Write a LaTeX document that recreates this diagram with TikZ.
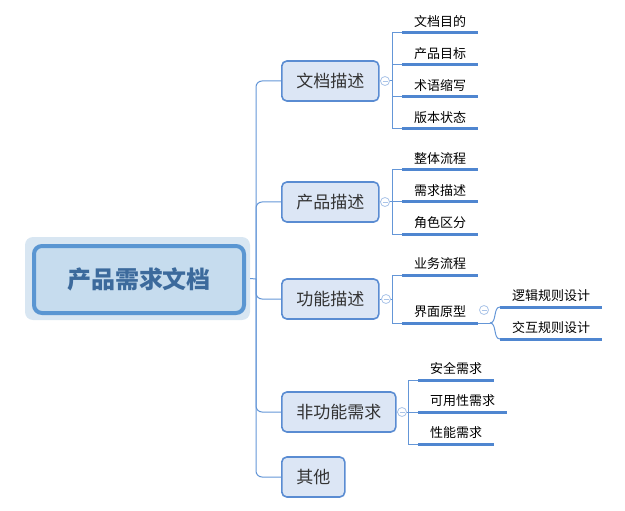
\documentclass[tikz,border=0pt]{standalone}
\usepackage{fontspec}
\usepackage{tikz}
\setmainfont{Noto Sans CJK SC}
\definecolor{linkblue}{RGB}{100,150,215}
\definecolor{barblue}{RGB}{79,134,208}
\definecolor{topicfill}{RGB}{220,230,245}
\definecolor{topicline}{RGB}{90,140,210}
\definecolor{rootfill}{RGB}{198,220,238}
\definecolor{rootline}{RGB}{90,150,210}
\definecolor{glowfill}{RGB}{216,230,242}
\definecolor{roottext}{RGB}{60,106,156}
\definecolor{foldline}{RGB}{170,196,232}

\begin{document}
\begin{tikzpicture}[x=1pt, y=-1pt,
  glow/.style={fill=glowfill, rounded corners=8pt, minimum width=225pt, minimum height=83pt},
  root/.style={draw=rootline, line width=4pt, fill=rootfill, rounded corners=8pt,
    minimum width=210pt, minimum height=67pt,
    font=\bfseries\fontsize{24}{28}\selectfont, text=roottext},
  topic/.style={draw=topicline, line width=1.6pt, fill=topicfill, rounded corners=5pt,
    inner xsep=14.5pt, minimum height=40pt, font=\fontsize{17}{20}\selectfont,
    text=black!80, anchor=west},
  leaf/.style={inner xsep=12pt, inner ysep=5pt, font=\fontsize{13}{15}\selectfont,
    anchor=south west,
    append after command={(\tikzlastnode.south west) edge[bar] (\tikzlastnode.south east)}},
  bar/.style={draw=barblue, line width=3pt},
  link/.style={draw=linkblue, line width=1pt},
  fold/.style={circle, draw=foldline, fill=white, line width=0.8pt, minimum size=9pt, inner sep=0pt,
    path picture={\draw[foldline, line width=0.8pt] ([xshift=2pt]path picture bounding box.west)
      -- ([xshift=-2pt]path picture bounding box.east);}}
]
  \useasboundingbox (0,0) rectangle (625,511);

  % central topic
  \node[glow] (rootglow) at (137.5,278.5) {};
  \node[root] (root) at (139,279.5) {产品需求文档};

  % main topics
  \node[topic] (wdms) at (281,81) {文档描述};
  \node[topic] (cpms) at (281,202) {产品描述};
  \node[topic] (gnms) at (281,299) {功能描述};
  \node[topic] (fgn) at (281,412) {非功能需求};
  \node[topic] (qt) at (281,477) {其他};

  % subtopics
  \node[leaf] (wdmd) at (402,33) {文档目的};
  \node[leaf] (cpmb) at (402,65) {产品目标};
  \node[leaf] (sysx) at (402,97) {术语缩写};
  \node[leaf] (bbzt) at (402,129) {版本状态};
  \node[leaf] (ztlc) at (402,170) {整体流程};
  \node[leaf] (xqms) at (402,202) {需求描述};
  \node[leaf] (jsqf) at (402,234) {角色区分};
  \node[leaf] (ywlc) at (402,275) {业务流程};
  \node[leaf] (jmyx) at (402,323) {界面原型};
  \node[leaf] (ljgz) at (500,307) {逻辑规则设计};
  \node[leaf] (jhgz) at (500,339) {交互规则设计};
  \node[leaf] (aqxq) at (418,380) {安全需求};
  \node[leaf] (kyx) at (418,412) {可用性需求};
  \node[leaf] (xnxq) at (418,444) {性能需求};

  % connectors
  \coordinate (hub) at (256,279);
  \draw[link] (rootglow.east) -- (hub);
  \foreach \t in {wdms,cpms,gnms,fgn,qt}
    \draw[link, rounded corners=6pt] (hub) |- (\t.west);

  \coordinate (wdbar) at (392,81);
  \draw[link] (wdms.east) -- (wdbar);
  \foreach \l in {wdmd,cpmb,sysx,bbzt}
    \draw[link] (wdbar) |- (\l.south west);

  \coordinate (cpbar) at (392,202);
  \draw[link] (cpms.east) -- (cpbar);
  \foreach \l in {ztlc,xqms,jsqf}
    \draw[link] (cpbar) |- (\l.south west);

  \coordinate (gnbar) at (392,299);
  \draw[link] (gnms.east) -- (gnbar);
  \foreach \l in {ywlc,jmyx}
    \draw[link] (gnbar) |- (\l.south west);

  \coordinate (fgnbar) at (408,412);
  \draw[link] (fgn.east) -- (fgnbar);
  \foreach \l in {aqxq,kyx,xnxq}
    \draw[link] (fgnbar) |- (\l.south west);

  \coordinate (jmfork) at (490,323);
  \draw[link] (jmyx.south east) -- (jmfork);
  \draw[link] (jmfork) .. controls (497,323) and (493,307) .. (ljgz.south west);
  \draw[link] (jmfork) .. controls (497,323) and (493,339) .. (jhgz.south west);

  % collapse markers
  \node[fold] (wdfold) at (385,81) {};
  \node[fold] (cpfold) at (385,202) {};
  \node[fold] (gnfold) at (386,299) {};
  \node[fold] (fgnfold) at (402,412) {};
  \node[fold] (jmfold) at (484,310) {};
\end{tikzpicture}
\end{document}
